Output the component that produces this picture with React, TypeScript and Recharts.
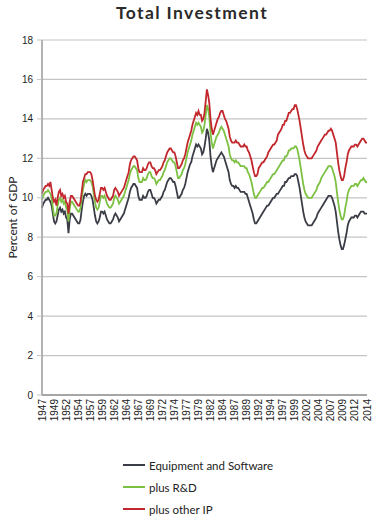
import { CartesianGrid, Line, LineChart, XAxis, YAxis } from 'recharts'

const startYear = 1947

// Quarterly, percent of GDP, 1947 Q1 .. 2014 Q3 (one row per year)
const equipment = [
  9.5, 9.7, 9.8, 9.9, 9.9, 10.0, 9.9, 9.8, 9.6, 9.2, 8.8, 8.7, 8.8, 9.1, 9.4, 9.5,
  9.3, 9.4, 9.2, 9.3, 9.0, 8.9, 8.2, 8.9, 9.2, 9.2, 9.1, 9.0, 8.9, 8.8, 8.7, 8.7,
  8.9, 9.4, 9.8, 10.1, 10.2, 10.1, 10.2, 10.2, 10.2, 10.1, 9.9, 9.5, 9.1, 8.8, 8.7, 8.8,
  9.0, 9.3, 9.3, 9.2, 9.3, 9.1, 8.9, 8.8, 8.7, 8.7, 8.8, 8.9, 9.1, 9.2, 9.1, 9.0,
  8.8, 8.9, 9.0, 9.1, 9.2, 9.4, 9.6, 9.8, 10.0, 10.3, 10.5, 10.6, 10.7, 10.7, 10.6, 10.5,
  10.1, 9.9, 9.9, 9.9, 10.1, 10.0, 10.0, 10.1, 10.3, 10.4, 10.4, 10.2, 10.0, 10.0, 9.9, 9.7,
  9.8, 9.9, 9.9, 10.0, 10.1, 10.3, 10.4, 10.6, 10.8, 10.9, 11.0, 11.0, 10.9, 10.8, 10.8, 10.6,
  10.3, 10.0, 10.0, 10.1, 10.2, 10.4, 10.5, 10.7, 11.0, 11.3, 11.5, 11.7, 11.8, 12.1, 12.3, 12.5,
  12.7, 12.6, 12.7, 12.6, 12.5, 12.2, 12.3, 12.6, 13.0, 13.5, 13.3, 12.9, 12.1, 11.6, 11.3, 11.5,
  11.7, 11.9, 12.0, 12.1, 12.2, 12.3, 12.2, 12.1, 11.9, 11.7, 11.5, 11.3, 10.9, 10.7, 10.6, 10.6,
  10.5, 10.6, 10.5, 10.5, 10.4, 10.3, 10.3, 10.3, 10.3, 10.2, 10.2, 10.0, 9.8, 9.6, 9.4, 9.2,
  8.9, 8.7, 8.7, 8.8, 8.9, 9.0, 9.1, 9.2, 9.3, 9.4, 9.5, 9.6, 9.6, 9.7, 9.8, 9.9,
  10.0, 10.0, 10.1, 10.2, 10.2, 10.3, 10.4, 10.5, 10.6, 10.6, 10.8, 10.8, 10.9, 11.0, 11.0, 11.1,
  11.1, 11.1, 11.2, 11.2, 11.1, 10.8, 10.5, 10.1, 9.7, 9.3, 9.0, 8.8, 8.7, 8.6, 8.6, 8.6,
  8.6, 8.7, 8.8, 8.9, 9.0, 9.2, 9.3, 9.4, 9.5, 9.6, 9.7, 9.8, 9.9, 10.0, 10.1, 10.1,
  10.1, 10.0, 9.8, 9.6, 9.3, 8.8, 8.3, 7.9, 7.6, 7.4, 7.4, 7.6, 7.9, 8.2, 8.6, 8.8,
  8.9, 9.0, 9.0, 9.0, 9.1, 9.1, 9.0, 9.1, 9.2, 9.3, 9.3, 9.3, 9.2, 9.2, 9.2,
]

const plusRnD = [
  9.9, 10.1, 10.2, 10.3, 10.3, 10.4, 10.3, 10.2, 10.0, 9.5, 9.1, 9.1, 9.2, 9.6, 9.9, 10.0,
  9.8, 9.9, 9.7, 9.8, 9.5, 9.4, 8.8, 9.4, 9.8, 9.8, 9.7, 9.6, 9.5, 9.4, 9.3, 9.3,
  9.5, 10.0, 10.4, 10.7, 10.9, 10.8, 10.9, 10.9, 10.9, 10.8, 10.6, 10.2, 9.8, 9.5, 9.4, 9.5,
  9.8, 10.1, 10.1, 10.0, 10.1, 9.9, 9.7, 9.6, 9.5, 9.5, 9.6, 9.7, 10.0, 10.1, 10.0, 9.9,
  9.7, 9.8, 9.9, 10.0, 10.1, 10.3, 10.5, 10.7, 10.9, 11.2, 11.4, 11.5, 11.6, 11.6, 11.5, 11.4,
  11.0, 10.8, 10.8, 10.8, 11.0, 10.9, 10.9, 11.0, 11.2, 11.3, 11.3, 11.1, 11.0, 11.0, 10.9, 10.7,
  10.8, 10.9, 10.9, 11.0, 11.1, 11.3, 11.4, 11.6, 11.8, 11.9, 12.0, 12.0, 11.9, 11.8, 11.8, 11.6,
  11.3, 11.0, 11.0, 11.1, 11.2, 11.4, 11.5, 11.7, 12.0, 12.3, 12.5, 12.7, 12.9, 13.2, 13.4, 13.6,
  13.8, 13.7, 13.8, 13.7, 13.6, 13.3, 13.4, 13.7, 14.2, 14.7, 14.5, 14.1, 13.3, 12.8, 12.5, 12.7,
  12.9, 13.1, 13.2, 13.3, 13.5, 13.6, 13.5, 13.4, 13.2, 13.0, 12.8, 12.6, 12.2, 12.0, 11.9, 11.9,
  11.8, 11.9, 11.8, 11.8, 11.7, 11.6, 11.6, 11.6, 11.6, 11.5, 11.5, 11.3, 11.2, 11.0, 10.8, 10.5,
  10.2, 10.0, 10.0, 10.1, 10.2, 10.3, 10.4, 10.5, 10.5, 10.6, 10.7, 10.8, 10.8, 10.9, 11.0, 11.1,
  11.2, 11.2, 11.3, 11.4, 11.5, 11.6, 11.7, 11.8, 11.9, 11.9, 12.1, 12.1, 12.2, 12.4, 12.4, 12.5,
  12.5, 12.5, 12.6, 12.6, 12.5, 12.2, 11.9, 11.5, 11.1, 10.7, 10.4, 10.2, 10.1, 10.0, 10.0, 10.0,
  10.0, 10.1, 10.2, 10.3, 10.4, 10.6, 10.7, 10.8, 11.0, 11.1, 11.2, 11.3, 11.4, 11.5, 11.6, 11.6,
  11.6, 11.5, 11.3, 11.1, 10.8, 10.3, 9.8, 9.4, 9.1, 8.9, 8.9, 9.1, 9.5, 9.8, 10.2, 10.4,
  10.5, 10.6, 10.6, 10.6, 10.7, 10.7, 10.6, 10.7, 10.8, 10.9, 10.9, 11.0, 10.9, 10.8, 10.8,
]

const plusOtherIP = [
  10.2, 10.4, 10.5, 10.6, 10.6, 10.7, 10.6, 10.8, 10.4, 10.0, 9.8, 9.9, 9.6, 10.0, 10.3, 10.4,
  10.1, 10.2, 10.0, 10.1, 9.8, 9.7, 9.2, 9.8, 10.1, 10.1, 10.0, 9.9, 9.8, 9.7, 9.6, 9.6,
  9.8, 10.3, 10.8, 11.0, 11.2, 11.2, 11.3, 11.3, 11.3, 11.2, 10.9, 10.5, 10.1, 9.9, 9.8, 9.9,
  10.2, 10.5, 10.5, 10.4, 10.5, 10.3, 10.1, 10.0, 9.9, 9.9, 10.0, 10.1, 10.4, 10.5, 10.4, 10.3,
  10.1, 10.2, 10.3, 10.4, 10.5, 10.7, 10.9, 11.1, 11.3, 11.7, 11.9, 12.0, 12.1, 12.1, 12.0, 11.9,
  11.5, 11.3, 11.3, 11.3, 11.5, 11.4, 11.4, 11.5, 11.7, 11.8, 11.8, 11.6, 11.5, 11.5, 11.4, 11.2,
  11.3, 11.4, 11.4, 11.5, 11.6, 11.8, 11.9, 12.1, 12.3, 12.4, 12.5, 12.5, 12.4, 12.3, 12.3, 12.1,
  11.8, 11.5, 11.5, 11.6, 11.7, 11.9, 12.0, 12.2, 12.5, 12.8, 13.0, 13.2, 13.4, 13.7, 13.9, 14.1,
  14.3, 14.2, 14.4, 14.2, 14.2, 13.9, 14.0, 14.3, 14.9, 15.5, 15.2, 14.8, 14.0, 13.5, 13.2, 13.4,
  13.6, 13.8, 14.0, 14.1, 14.3, 14.4, 14.4, 14.2, 14.0, 13.9, 13.7, 13.5, 13.1, 12.9, 12.8, 12.8,
  12.8, 12.9, 12.8, 12.8, 12.7, 12.6, 12.6, 12.6, 12.7, 12.6, 12.6, 12.4, 12.3, 12.1, 11.9, 11.6,
  11.3, 11.1, 11.1, 11.2, 11.5, 11.6, 11.7, 11.8, 11.8, 11.9, 12.0, 12.1, 12.3, 12.4, 12.5, 12.6,
  12.7, 12.7, 12.8, 12.9, 13.2, 13.3, 13.4, 13.5, 13.7, 13.7, 13.9, 13.9, 14.1, 14.3, 14.3, 14.4,
  14.5, 14.5, 14.7, 14.7, 14.5, 14.2, 13.9, 13.5, 13.1, 12.7, 12.4, 12.2, 12.1, 12.0, 12.0, 12.0,
  12.0, 12.1, 12.2, 12.3, 12.4, 12.6, 12.7, 12.8, 12.9, 13.0, 13.1, 13.2, 13.2, 13.3, 13.4, 13.4,
  13.5, 13.4, 13.2, 13.0, 12.8, 12.3, 11.8, 11.4, 11.1, 10.9, 10.9, 11.1, 11.5, 11.8, 12.2, 12.4,
  12.5, 12.6, 12.6, 12.6, 12.7, 12.7, 12.6, 12.7, 12.8, 12.9, 13.0, 13.0, 12.9, 12.8, 12.8,
]

const yTicks = [0, 2, 4, 6, 8, 10, 12, 14, 16, 18]

const quarters = equipment.map(
  (_, i) => `${startYear + Math.floor(i / 4)} Q${(i % 4) + 1}`,
)

const chartData = quarters.map((quarter, i) => ({
  quarter,
  equipment: equipment[i],
  rnd: plusRnD[i],
  otherIp: plusOtherIP[i],
}))

const series = [
  { key: 'equipment', name: 'Equipment and Software', color: '#3b3d46' },
  { key: 'rnd', name: 'plus R&D', color: '#7cc142' },
  { key: 'otherIp', name: 'plus other IP', color: '#c1272d' },
]

const labelFont = 'Lato, "Open Sans", sans-serif'
const tickFont = '"Liberation Sans", Arial, sans-serif'

// rotated year labels, reading bottom to top like the original
function YearTick({ x, y, payload }: any) {
  const tx = x + 3.5
  const ty = y
  return (
    <text
      x={tx}
      y={ty}
      transform={`rotate(-90 ${tx} ${ty})`}
      textAnchor="end"
      fontSize={10}
      fontFamily={tickFont}
      fill="#222"
    >
      {String(payload.value).slice(0, 4)}
    </text>
  )
}

export default function App() {
  return (
    <div
      style={{
        position: 'absolute',
        left: 0,
        top: 0,
        width: 390,
        height: 525,
        background: '#fff',
      }}
    >
      <div
        style={{
          position: 'absolute',
          left: 0,
          top: 0,
          width: 384,
          textAlign: 'center',
          fontFamily: labelFont,
          fontWeight: 700,
          fontSize: 17.5,
          letterSpacing: 1.4,
          color: '#2a2a2a',
          lineHeight: '26px',
        }}
      >
        Total Investment
      </div>
      <LineChart
        width={390}
        height={440}
        data={chartData}
        margin={{ top: 40, right: 23, left: 0, bottom: 0 }}
      >
        <CartesianGrid vertical={false} stroke="#c4c4c4" strokeWidth={1.2} />
        <XAxis
          dataKey="quarter"
          interval={9}
          height={45}
          tickLine={false}
          tickSize={0}
          tickMargin={4}
          axisLine={{ stroke: '#a6a6a6', strokeWidth: 2 }}
          tick={<YearTick />}
        />
        <YAxis
          domain={[0, 18]}
          ticks={yTicks}
          width={42}
          tickSize={5}
          tickMargin={4}
          tickLine={{ stroke: '#c4c4c4' }}
          axisLine={{ stroke: '#9a9a9a', strokeWidth: 1.5 }}
          tick={{ fontSize: 10, fontFamily: tickFont, fill: '#222' }}
          label={{
            value: 'Percent of GDP',
            angle: -90,
            position: 'insideLeft',
            offset: 13,
            style: {
              textAnchor: 'middle',
              fontSize: 12,
              fontFamily: labelFont,
              fill: '#222',
            },
          }}
        />
        {series.map((s) => (
          <Line
            key={s.key}
            type="linear"
            dataKey={s.key}
            name={s.name}
            stroke={s.color}
            strokeWidth={1.8}
            dot={false}
            isAnimationActive={false}
          />
        ))}
      </LineChart>
      {series.map((s, i) => (
        <div
          key={s.key}
          style={{
            position: 'absolute',
            left: 123,
            top: 456 + i * 22,
            height: 18,
            display: 'flex',
            alignItems: 'center',
            fontFamily: labelFont,
            fontSize: 11.5,
            color: '#222',
          }}
        >
          <span
            style={{
              display: 'inline-block',
              width: 22,
              height: 1.5,
              background: s.color,
              marginRight: 4,
            }}
          />
          {s.name}
        </div>
      ))}
    </div>
  )
}
